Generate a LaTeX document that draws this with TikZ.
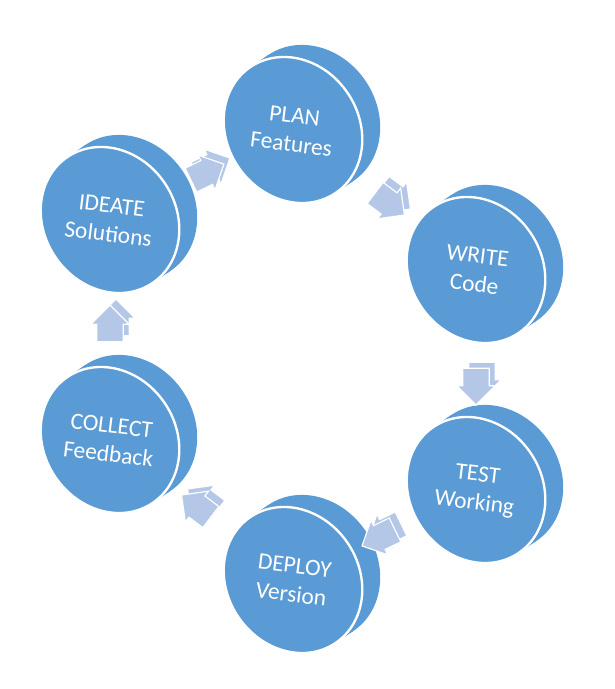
\documentclass[tikz,border=0pt]{standalone}
\usepackage{fontspec}
\setmainfont{Carlito}
\usetikzlibrary{shapes.arrows,calc}

\definecolor{discBlue}{HTML}{5B9BD5}
\definecolor{arrowBlue}{HTML}{B4C7E7}

\tikzset{
  disc/.pic={
    \fill[discBlue] (21.6,0) ellipse (66 and 76);
    \fill[discBlue] (0,-76) rectangle (21.6,76);
    \fill[discBlue,draw=white,line width=2pt] (0,0) ellipse (66 and 76);
  },
  discText/.style={text=white,align=center,rotate=-7,font=\fontsize{20}{24.5}\selectfont},
  blockArrow/.style={single arrow,fill=arrowBlue,draw=white,line width=1pt,inner xsep=0pt,inner ysep=0.38cm,
    minimum height=1.1cm,single arrow head extend=0.18cm}
}

\begin{document}
\begin{tikzpicture}[x=0.03cm,y=-0.03cm]
  \useasboundingbox (0,0) rectangle (615,689);

  \pic[rotate=34] at (110,220) {disc};
  \pic[rotate=34] at (293,130) {disc};
  \pic[rotate=34] at (476,270) {disc};
  \pic[rotate=34] at (476,490) {disc};
  \pic[rotate=34] at (293,580) {disc};
  \pic[rotate=34] at (110,440) {disc};

  \node[discText] (ideateSolutions) at (110,220) {IDEATE\\Solutions};
  \node[discText] (planFeatures) at (293,130) {PLAN\\Features};
  \node[discText] (writeCode) at (476,270) {WRITE\\Code};
  \node[discText] (testWorking) at (476,490) {TEST\\Working};
  \node[discText] (deployVersion) at (293,580) {DEPLOY\\Version};
  \node[discText] (collectFeedback) at (110,440) {COLLECT\\Feedback};

  \node[blockArrow,rotate=90] (collectIdeateBack) at ($(collectFeedback)!0.5!(ideateSolutions)+(6,-6)$) {};
  \node[blockArrow,rotate=90] (collectIdeate) at ($(collectFeedback)!0.5!(ideateSolutions)$) {};
  \node[blockArrow,rotate=26] (ideatePlanBack) at ($(ideateSolutions)!0.5!(planFeatures)+(6,-6)$) {};
  \node[blockArrow,rotate=26] (ideatePlan) at ($(ideateSolutions)!0.5!(planFeatures)$) {};
  \node[blockArrow,rotate=-37] (planWriteBack) at ($(planFeatures)!0.5!(writeCode)+(6,-6)$) {};
  \node[blockArrow,rotate=-37] (planWrite) at ($(planFeatures)!0.5!(writeCode)$) {};
  \node[blockArrow,rotate=-90] (writeTestBack) at ($(writeCode)!0.5!(testWorking)+(6,-6)$) {};
  \node[blockArrow,rotate=-90] (writeTest) at ($(writeCode)!0.5!(testWorking)$) {};
  \node[blockArrow,rotate=-154] (testDeployBack) at ($(testWorking)!0.5!(deployVersion)+(6,-6)$) {};
  \node[blockArrow,rotate=-154] (testDeploy) at ($(testWorking)!0.5!(deployVersion)$) {};
  \node[blockArrow,rotate=143] (deployCollectBack) at ($(deployVersion)!0.5!(collectFeedback)+(6,-6)$) {};
  \node[blockArrow,rotate=143] (deployCollect) at ($(deployVersion)!0.5!(collectFeedback)$) {};
\end{tikzpicture}
\end{document}
